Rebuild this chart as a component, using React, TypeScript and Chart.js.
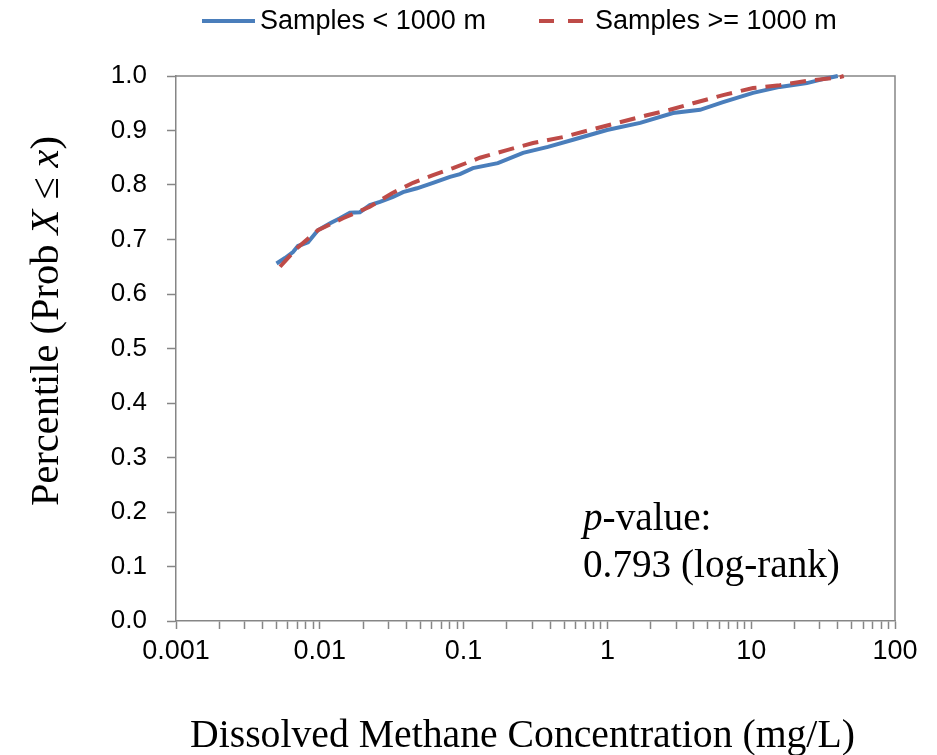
import React, { useEffect, useRef } from "react";
import { Chart, registerables } from "chart.js";

Chart.register(...registerables);

// ---- Data ----
const seriesNames = ["Samples < 1000 m", "Samples >= 1000 m"];

const blueX = [0.005, 0.00573, 0.00651, 0.00705, 0.00828, 0.0097, 0.0118, 0.0138, 0.0162, 0.019, 0.0223, 0.0262, 0.0323, 0.0379, 0.0474, 0.0613, 0.0804, 0.0944, 0.116, 0.173, 0.259, 0.386, 0.577, 0.993, 1.69, 2.86, 4.41, 6.37, 10.3, 15.8, 24.4, 33.7, 40];
const blueY = [0.656, 0.666, 0.677, 0.688, 0.695, 0.717, 0.73, 0.739, 0.749, 0.75, 0.763, 0.769, 0.778, 0.787, 0.794, 0.804, 0.815, 0.82, 0.831, 0.84, 0.859, 0.87, 0.883, 0.901, 0.914, 0.932, 0.938, 0.952, 0.969, 0.98, 0.987, 0.996, 1.0];

const redX = [0.00529, 0.00694, 0.0097, 0.0145, 0.0223, 0.0318, 0.0445, 0.0613, 0.0844, 0.13, 0.2, 0.304, 0.491, 0.757, 1.17, 1.88, 2.72, 3.94, 6.37, 10.3, 15.8, 24.4, 41.5, 44];
const redY = [0.65, 0.684, 0.717, 0.739, 0.76, 0.785, 0.804, 0.818, 0.831, 0.85, 0.864, 0.877, 0.888, 0.901, 0.914, 0.928, 0.938, 0.95, 0.965, 0.978, 0.983, 0.991, 0.998, 1.0];

const xDecades = [0.001, 0.01, 0.1, 1, 10, 100];
const xDecadeLabels = ["0.001", "0.01", "0.1", "1", "10", "100"];
const yMin = 0;
const yMax = 1;
const yStep = 0.1;

const xTitle = "Dissolved Methane Concentration (mg/L)";
const yTitleParts = [
  { text: "Percentile (Prob ", italic: false },
  { text: "X", italic: true },
  { text: " \u2264 ", italic: false },
  { text: "x", italic: true },
  { text: ")", italic: false },
];
const noteLine1 = [
  { text: "p", italic: true },
  { text: "-value:", italic: false },
];
const noteLine2 = [{ text: "0.793 (log-rank)", italic: false }];

const BLUE = "#4A7EBB";
const RED = "#BE4B48";
const AXIS = "#868686";
const SERIF = "'Liberation Serif', serif";
const SANS = "'Liberation Sans', sans-serif";

type Part = { text: string; italic: boolean };

function partsWidth(ctx: CanvasRenderingContext2D, parts: Part[], size: number) {
  let w = 0;
  for (const p of parts) {
    ctx.font = `${p.italic ? "italic " : ""}${size}px ${SERIF}`;
    w += ctx.measureText(p.text).width;
  }
  return w;
}
function fitSize(ctx: CanvasRenderingContext2D, parts: Part[], target: number) {
  return (100 * target) / partsWidth(ctx, parts, 100);
}
function drawParts(ctx: CanvasRenderingContext2D, parts: Part[], size: number, x: number, y: number) {
  let cx = x;
  for (const p of parts) {
    ctx.font = `${p.italic ? "italic " : ""}${size}px ${SERIF}`;
    ctx.fillText(p.text, cx, y);
    cx += ctx.measureText(p.text).width;
  }
}

const decorPlugin = {
  id: "decor",
  beforeDatasetsDraw(chart: any) {
    const { ctx, chartArea } = chart;
    ctx.save();
    ctx.strokeStyle = AXIS;
    ctx.lineWidth = 1.5;
    ctx.beginPath();
    ctx.moveTo(chartArea.left, chartArea.top);
    ctx.lineTo(chartArea.right, chartArea.top);
    ctx.lineTo(chartArea.right, chartArea.bottom);
    ctx.stroke();
    ctx.restore();
  },
  afterDraw(chart: any) {
    const { ctx } = chart;
    ctx.save();
    ctx.fillStyle = "#000";
    ctx.textBaseline = "middle";
    ctx.textAlign = "left";

    // Legend
    ctx.lineWidth = 4;
    ctx.strokeStyle = BLUE;
    ctx.setLineDash([]);
    ctx.beginPath();
    ctx.moveTo(202, 21);
    ctx.lineTo(255, 21);
    ctx.stroke();
    ctx.font = `27px ${SANS}`;
    ctx.fillText(seriesNames[0], 260, 22);
    ctx.strokeStyle = RED;
    ctx.setLineDash([15, 14]);
    ctx.beginPath();
    ctx.moveTo(539, 21);
    ctx.lineTo(583, 21);
    ctx.stroke();
    ctx.setLineDash([]);
    ctx.fillText(seriesNames[1], 595, 22);

    // X title
    const xs = fitSize(ctx, [{ text: xTitle, italic: false }], 665);
    ctx.textBaseline = "alphabetic";
    drawParts(ctx, [{ text: xTitle, italic: false }], xs, 190, 747);

    // Y title
    const ys = fitSize(ctx, yTitleParts, 370);
    ctx.save();
    ctx.translate(58, 506);
    ctx.rotate(-Math.PI / 2);
    drawParts(ctx, yTitleParts, ys, 0, 0);
    ctx.restore();

    // p-value note
    const ns = fitSize(ctx, noteLine2, 257);
    drawParts(ctx, noteLine1, ns, 583, 530);
    drawParts(ctx, noteLine2, ns, 583, 577);
    ctx.restore();
  },
};

function buildXTicks() {
  const out: { value: number }[] = [];
  for (let i = 0; i < xDecades.length; i++) {
    const d = xDecades[i];
    out.push({ value: d });
    if (i < xDecades.length - 1) {
      for (let m = 2; m <= 9; m++) out.push({ value: d * m });
    }
  }
  return out;
}

export default function App() {
  const ref = useRef<HTMLCanvasElement>(null);
  useEffect(() => {
    if (!ref.current) return;
    const chart = new Chart(ref.current, {
      type: "line",
      data: {
        datasets: [
          {
            label: seriesNames[0],
            data: blueX.map((x, i) => ({ x, y: blueY[i] })),
            borderColor: BLUE,
            backgroundColor: BLUE,
            borderWidth: 4,
            pointRadius: 0,
            tension: 0,
            fill: false,
            order: 1,
            clip: 6,
          },
          {
            label: seriesNames[1],
            data: redX.map((x, i) => ({ x, y: redY[i] })),
            borderColor: RED,
            backgroundColor: RED,
            borderWidth: 4,
            borderDash: [16, 9],
            pointRadius: 0,
            tension: 0,
            fill: false,
            order: 0,
            clip: 6,
          },
        ],
      },
      options: {
        animation: false,
        responsive: false,
        maintainAspectRatio: false,
        layout: { padding: { top: 76, right: 42, left: 0, bottom: 0 } },
        plugins: { legend: { display: false }, tooltip: { enabled: false } },
        scales: {
          x: {
            type: "logarithmic",
            min: xDecades[0],
            max: xDecades[xDecades.length - 1],
            afterBuildTicks: (s: any) => {
              s.ticks = buildXTicks();
            },
            afterFit: (s: any) => {
              s.height = 134;
            },
            grid: {
              drawOnChartArea: false,
              drawTicks: true,
              tickLength: 8,
              tickColor: AXIS,
              tickWidth: 1.5,
            },
            border: { color: AXIS, width: 1.5 },
            ticks: {
              autoSkip: false,
              maxRotation: 0,
              padding: 6,
              color: "#000",
              font: { family: "Liberation Sans", size: 27 },
              callback: (v: any) => {
                const idx = xDecades.findIndex((d) => Math.abs(Math.log10(d) - Math.log10(Number(v))) < 1e-6);
                return idx >= 0 ? xDecadeLabels[idx] : "";
              },
            },
          },
          y: {
            type: "linear",
            min: yMin,
            max: yMax,
            afterFit: (s: any) => {
              s.width = 176;
            },
            grid: {
              drawOnChartArea: false,
              drawTicks: true,
              tickLength: 9,
              tickColor: AXIS,
              tickWidth: 1.5,
            },
            border: { color: AXIS, width: 1.5 },
            ticks: {
              stepSize: yStep,
              padding: 20,
              color: "#000",
              font: { family: "Liberation Sans", size: 26 },
              callback: (v: any) => Number(v).toFixed(1),
            },
          },
        },
      },
      plugins: [decorPlugin],
    });
    return () => chart.destroy();
  }, []);
  return (
    <div style={{ position: "fixed", left: 0, top: 0, width: 937, height: 755, background: "#fff" }}>
      <canvas ref={ref} width={937} height={755} style={{ display: "block" }} />
    </div>
  );
}
